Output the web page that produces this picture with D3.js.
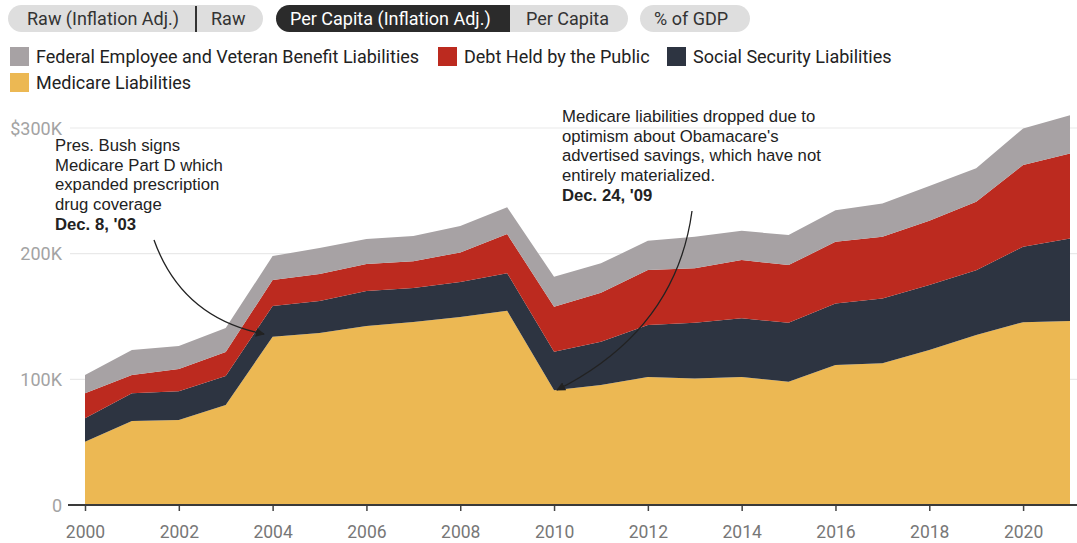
<!DOCTYPE html>
<html>
<head>
<meta charset="utf-8">
<script src="https://cdn.jsdelivr.net/npm/d3@7"></script>
<style>
  html, body { margin: 0; padding: 0; background: #fff; }
  svg { display: block; font-family: Roboto, "Noto Sans", sans-serif; }
</style>
</head>
<body>
<svg id="chart" width="1077" height="543"></svg>
<script>
// Per-capita liabilities (inflation adjusted), in thousands of dollars
const years = [2000, 2001, 2002, 2003, 2004, 2005, 2006, 2007, 2008, 2009, 2010,
               2011, 2012, 2013, 2014, 2015, 2016, 2017, 2018, 2019, 2020, 2021];
const medicare = [50.4, 66.8, 67.6, 79.6, 133.9, 136.8, 142.4, 145.6, 149.6, 154.6, 91.3,
                  95.5, 101.9, 100.7, 101.9, 98.0, 111.4, 112.7, 123.3, 135.2, 145.5, 146.5];
const socialSecurity = [18.6, 22.1, 22.9, 23.0, 24.4, 25.5, 27.8, 27.0, 27.8, 29.9, 30.7,
                        34.5, 41.3, 44.3, 46.7, 47.0, 49.0, 51.7, 51.7, 51.7, 60.0, 65.6];
const debtHeld = [19.9, 14.5, 17.7, 19.1, 20.7, 21.5, 21.5, 21.4, 23.6, 31.1, 35.7,
                  38.9, 43.8, 43.3, 46.3, 45.9, 49.0, 49.0, 51.2, 54.4, 65.0, 67.7];
const fedEmployee = [14.5, 19.9, 18.3, 19.1, 19.1, 20.7, 19.9, 20.0, 21.0, 21.4, 23.9,
                     23.4, 23.2, 25.1, 23.3, 23.9, 25.2, 26.6, 27.6, 26.6, 29.2, 30.4];

const yTickValues = [0, 100000, 200000, 300000];
const yTickLabels = ["0", "100K", "200K", "$300K"];
const xTickValues = [2000, 2002, 2004, 2006, 2008, 2010, 2012, 2014, 2016, 2018, 2020];

const seriesKeys = ["medicare", "socialSecurity", "debtHeld", "fedEmployee"];
const seriesNames = {
  fedEmployee: "Federal Employee and Veteran Benefit Liabilities",
  debtHeld: "Debt Held by the Public",
  socialSecurity: "Social Security Liabilities",
  medicare: "Medicare Liabilities"
};
const colors = {
  fedEmployee: "#a7a2a4",
  debtHeld: "#bc2a1f",
  socialSecurity: "#2d3441",
  medicare: "#ecb853"
};

const rows = years.map((yr, i) => ({
  year: yr,
  medicare: medicare[i] * 1000,
  socialSecurity: socialSecurity[i] * 1000,
  debtHeld: debtHeld[i] * 1000,
  fedEmployee: fedEmployee[i] * 1000
}));

const svg = d3.select("#chart");

// ---- view toggle buttons ----
const btn = svg.append("g").attr("font-size", 18);
function pill(x0, x1, fill) {
  btn.append("rect").attr("x", x0).attr("y", 5).attr("width", x1 - x0).attr("height", 27)
    .attr("rx", 13.5).attr("fill", fill);
}
pill(8, 263, "#dedede");
btn.append("line").attr("x1", 196).attr("x2", 196).attr("y1", 6).attr("y2", 32)
  .attr("stroke", "#333").attr("stroke-width", 2);
btn.append("text").attr("x", 27).attr("y", 25).attr("fill", "#333").text("Raw (Inflation Adj.)");
btn.append("text").attr("x", 211).attr("y", 25).attr("fill", "#333").text("Raw");

pill(276, 628, "#dedede");
btn.append("path")
  .attr("d", "M510,5 H289.5 A13.5,13.5 0 0 0 289.5,32 H510 Z")
  .attr("fill", "#2b2b2b");
btn.append("text").attr("x", 290).attr("y", 25).attr("fill", "#fff").text("Per Capita (Inflation Adj.)");
btn.append("text").attr("x", 526).attr("y", 25).attr("fill", "#333").text("Per Capita");

pill(640, 750, "#dedede");
btn.append("text").attr("x", 654).attr("y", 25).attr("fill", "#333").text("% of GDP");

// ---- legend ----
const legendItems = [
  { key: "fedEmployee", x: 10, y: 47 },
  { key: "debtHeld", x: 438, y: 47 },
  { key: "socialSecurity", x: 667, y: 47 },
  { key: "medicare", x: 10, y: 73 }
];
const lg = svg.append("g").attr("font-size", 18);
legendItems.forEach(d => {
  lg.append("rect").attr("x", d.x).attr("y", d.y).attr("width", 19).attr("height", 19)
    .attr("fill", colors[d.key]);
  lg.append("text").attr("x", d.x + 26).attr("y", d.y + 16).attr("fill", "#222")
    .text(seriesNames[d.key]);
});

// ---- scales ----
const x = d3.scaleLinear().domain([2000, 2021]).range([85, 1070]);
const y = d3.scaleLinear().domain([0, 300000]).range([505, 128]);

// gridlines
svg.append("g").selectAll("line").data(yTickValues.filter(v => v > 0)).join("line")
  .attr("x1", 70).attr("x2", 1077)
  .attr("y1", d => y(d)).attr("y2", d => y(d))
  .attr("stroke", "#e9e9e9").attr("stroke-width", 1.2);

// y labels
svg.append("g").attr("font-size", 18).attr("fill", "#a3a3a3").attr("text-anchor", "end")
  .selectAll("text").data(yTickValues).join("text")
  .attr("x", 62).attr("y", d => y(d) + 6.5)
  .text((d, i) => yTickLabels[i]);

// ---- stacked areas ----
const stacked = d3.stack().keys(seriesKeys)(rows);
const area = d3.area()
  .x(d => x(d.data.year))
  .y0(d => y(d[0]))
  .y1(d => y(d[1]));

svg.append("g").selectAll("path").data(stacked).join("path")
  .attr("d", area)
  .attr("fill", d => colors[d.key]);

// ---- x axis ----
const xAxis = d3.axisBottom(x).tickValues(xTickValues).tickFormat(d3.format("d"))
  .tickSize(6).tickPadding(15);
const xg = svg.append("g").attr("transform", "translate(0,505)").call(xAxis);
xg.select(".domain").remove();
xg.append("line").attr("x1", 68).attr("x2", 1077).attr("y1", 0).attr("y2", 0)
  .attr("stroke", "#3a3a3a").attr("stroke-width", 2);
xg.selectAll(".tick line").attr("stroke", "#444").attr("stroke-width", 1.5);
xg.selectAll(".tick text").attr("font-size", 17.5).attr("fill", "#777")
  .attr("font-family", "Roboto, sans-serif");

// ---- annotations ----
const ann = svg.append("g").attr("font-family", "'Liberation Sans', Arial, sans-serif")
  .attr("font-size", 16.7).attr("fill", "#222");

function noteBlock(x0, y0, lines, bold) {
  const t = ann.append("text").attr("x", x0).attr("y", y0);
  lines.forEach((ln, i) => {
    t.append("tspan").attr("x", x0).attr("dy", i === 0 ? 0 : 19.7).text(ln);
  });
  t.append("tspan").attr("x", x0).attr("dy", 19.7).attr("font-weight", "bold").text(bold);
}
noteBlock(55, 151, ["Pres. Bush signs", "Medicare Part D which", "expanded prescription", "drug coverage"], "Dec. 8, '03");
noteBlock(562, 122, ["Medicare liabilities dropped due to", "optimism about Obamacare's", "advertised savings, which have not", "entirely materialized."], "Dec. 24, '09");

svg.append("defs").append("marker")
  .attr("id", "head").attr("viewBox", "0 0 10 10").attr("refX", 9).attr("refY", 5)
  .attr("markerWidth", 9).attr("markerHeight", 9).attr("orient", "auto")
  .attr("markerUnits", "userSpaceOnUse")
  .append("path").attr("d", "M0,0 L10,5 L0,10 Z").attr("fill", "#222");

const arrows = [
  "M154,240 Q182,318 264,334",
  "M692,211 Q676,330 557,390"
];
svg.append("g").selectAll("path").data(arrows).join("path")
  .attr("d", d => d).attr("fill", "none").attr("stroke", "#222")
  .attr("stroke-width", 1.3).attr("marker-end", "url(#head)");
</script>
</body>
</html>
